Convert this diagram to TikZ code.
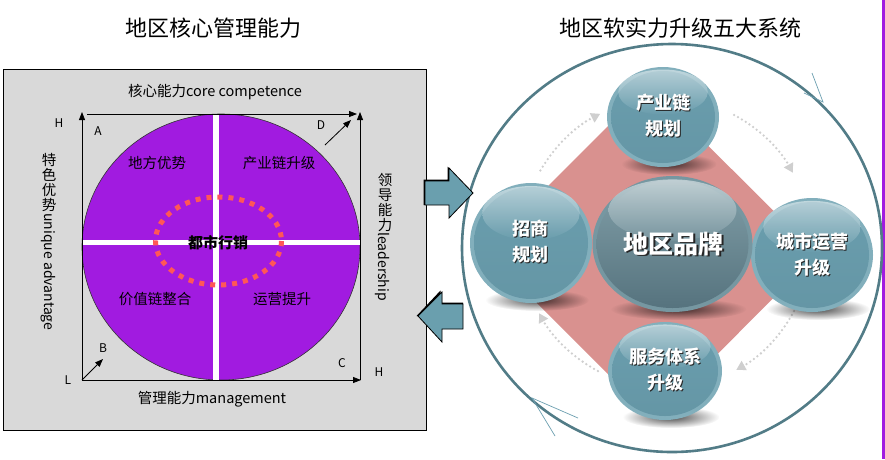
\documentclass[tikz,border=0pt]{standalone}
\usepackage{fontspec}
\setmainfont{Noto Sans CJK SC}
\usetikzlibrary{arrows.meta,fadings,shapes.geometric}
\definecolor{panelgray}{HTML}{D9D9D9}
\definecolor{purp}{HTML}{A11BE0}
\definecolor{dotred}{HTML}{FF5757}
\definecolor{arrteal}{HTML}{6A9FAE}
\definecolor{ringc}{HTML}{527C87}
\definecolor{tickc}{HTML}{6C9FB0}
\definecolor{diam}{HTML}{D9918F}
\definecolor{dotgray}{HTML}{CFCFCF}
\definecolor{sbody}{HTML}{6A9EAE}
\definecolor{srim}{HTML}{82AFBC}
\definecolor{cbodyt}{HTML}{819FA8}
\definecolor{cbodyb}{HTML}{56737E}
\definecolor{crim}{HTML}{7697A1}
\tikzfading[name=fuzzyfade, inner color=transparent!0, outer color=transparent!100]
\newcommand\mysphere[8]{%
  % #1 name, #2 cx, #3 cy, #4 rx, #5 ry, #6 rim, #7 top body, #8 bottom body
  \fill[black, opacity=0.7, path fading=fuzzyfade] (#2+6,#3+#5-3) ellipse[x radius=#4*0.85, y radius=11];
  \node[ellipse, fill=#6, minimum width=2*#4, minimum height=2*#5, inner sep=0] (#1) at (#2,#3) {};
  \shade[top color=#7, bottom color=#8] (#2,#3) ellipse[x radius=#4-4, y radius=#5-4];
  \shade[top color=white, bottom color=#7, opacity=0.5] (#2,#3-#5*0.5) ellipse[x radius=#4*0.8, y radius=#5*0.45];
}
\begin{document}
\begin{tikzpicture}[x=1pt,y=-1pt,
  lbl/.style={font=\fontsize{14.5}{16}\selectfont, inner sep=0},
  vlbl/.style={font=\fontsize{14.5}{15}\selectfont, inner sep=0, align=center, anchor=north},
  vlat/.style={font=\fontsize{14}{16}\selectfont, inner sep=0, rotate=-90, anchor=west},
  letter/.style={font=\fontsize{12}{14}\selectfont, inner sep=0},
  axisline/.style={-{Triangle[length=8pt,width=6pt]}, line width=0.8pt},
  bigarrow/.style={fill=arrteal, draw=black, line width=0.8pt, line join=miter},
  dotarc/.style={dotgray, line width=2.6pt, dash pattern=on 0pt off 4.5pt, line cap=round, -{Triangle[length=9pt,width=10pt]}},
  stext/.style={font=\fontsize{18}{26}\selectfont\bfseries, align=center, inner sep=0, text=white},
  sshadow/.style={font=\fontsize{18}{26}\selectfont\bfseries, align=center, inner sep=0, text=black!85},
  title/.style={font=\fontsize{22}{24}\selectfont, inner sep=0}
]
\useasboundingbox (0,0) rectangle (885,459);
\fill[white] (0,0) rectangle (885,459);

% titles
\node[title] (t1) at (213,28) {地区核心管理能力};
\node[title] (t2) at (680,28) {地区软实力升级五大系统};

% purple edge
\fill[purp] (881.5,0) rectangle (885,459);

% ---------------- left panel ----------------
\node[draw=black, fill=panelgray, line width=1pt, anchor=north west, minimum width=423, minimum height=361, inner sep=0] (panel) at (3,69) {};

\node[ellipse, fill=purp, draw=black!80, line width=0.6pt, minimum width=278, minimum height=266, inner sep=0] (disc) at (221,247) {};
\draw[white, line width=6pt] (216,114) -- (216,380);
\draw[white, line width=5pt] (82,242) -- (361,242);
\draw[dotred, line width=5pt, dash pattern=on 5pt off 6pt] (218.5,241) ellipse[x radius=63, y radius=44];

\coordinate (LL) at (82,380);
\coordinate (LT) at (82,112);
\coordinate (TL) at (87,114);
\coordinate (TR) at (357,114);
\coordinate (RB) at (360,380);
\coordinate (RT) at (360,112);
\coordinate (BR) at (361,380);
\draw[axisline] (LL) -- (LT);
\draw[axisline] (TL) -- (TR);
\draw[axisline] (RB) -- (RT);
\draw[axisline] (LL) -- (BR);
\coordinate (d0) at (325,145);
\coordinate (d1) at (351,120);
\draw[axisline] (d0) -- (d1);
\coordinate (b1) at (103,359);
\draw[axisline] (LL) -- (b1);

\node[lbl] (top) at (215,92) {核心能力core competence};
\node[lbl] (bot) at (212,399) {管理能力management};
\node[vlbl] (lftc) at (49,153) {特\\色\\优\\势};
\node[vlat] (lftl) at (48,213) {unique advantage};
\node[vlbl] (rgtc) at (385,173) {领\\导\\能\\力};
\node[vlat] (rgtl) at (382,232) {leadership};
\node[lbl] (q1) at (157,163) {地方优势};
\node[lbl] (q2) at (279,163) {产业链升级};
\node[lbl] (q3) at (155,299) {价值链整合};
\node[lbl] (q4) at (282,299) {运营提升};
\node[font=\fontsize{15}{17}\selectfont\bfseries, inner sep=0] (mid) at (218,243) {都市行销};
\node[letter] (h1) at (59,123) {H};
\node[letter] (la) at (98,131) {A};
\node[letter] (ld) at (321,125) {D};
\node[letter] (lb) at (103,348) {B};
\node[letter] (ll) at (68,380) {L};
\node[letter] (lc) at (342,363) {C};
\node[letter] (h2) at (379,372) {H};

% ---------------- right panel ----------------
\node[ellipse, draw=ringc, fill=white, line width=2.6pt, minimum width=420, minimum height=408, inner sep=0] (ring) at (672,248) {};
\coordinate (k1) at (812,73);
\coordinate (k2) at (823,102);
\coordinate (k3) at (804,93);
\draw[tickc, line width=0.7pt] (k1) -- (k2) -- (k3);
\coordinate (m1) at (578,418);
\coordinate (m2) at (532,398);
\coordinate (m3) at (555,436);
\draw[tickc, line width=0.7pt] (m1) -- (m2) -- (m3);

\fill[diam] (648,86) -- (817,254) -- (653,419) -- (484,250) -- cycle;

\draw[dotarc] ([shift={(210:145)}]666,243) arc[start angle=210, end angle=243, radius=145];
\draw[dotarc] ([shift={(298:145)}]666,243) arc[start angle=298, end angle=331, radius=145];
\draw[dotarc] ([shift={(28:145)}]666,243) arc[start angle=28, end angle=61, radius=145];
\draw[dotarc] ([shift={(118:145)}]666,243) arc[start angle=118, end angle=151, radius=145];

% arrows between panels
\fill[black] (423.5,179.5) -- (447.5,179.5) -- (447.5,166.5) -- (449,168) -- (449,181) -- (425,181) -- (425,205) -- (423.5,205) -- cycle;
\draw[bigarrow] (425,181) -- (449,181) -- (449,168) -- (473,193) -- (449,218) -- (449,205) -- (425,205) -- cycle;
\fill[black] (463,302.5) -- (440.5,302.5) -- (440.5,290.5) -- (416.5,316) -- (418,316) -- (442,292) -- (442,304) -- (463,304) -- cycle;
\draw[bigarrow] (463,304) -- (442,304) -- (442,292) -- (418,316) -- (442,342) -- (442,329) -- (463,329) -- cycle;

% spheres
\mysphere{s1}{663}{117}{56}{50}{srim}{sbody}{sbody!95!black}
\mysphere{s2}{531}{243}{61}{60}{srim}{sbody}{sbody!95!black}
\mysphere{s4}{812}{255}{61}{57}{srim}{sbody}{sbody!95!black}
\mysphere{s5}{665}{371}{57}{49}{srim}{sbody}{sbody!95!black}
\mysphere{s3}{672.5}{244}{80}{68}{crim}{cbodyt}{cbodyb}

\node[sshadow] (s1ts) at (664,117) {产业链\\规划};
\node[stext] (s1t) at (663,116) {产业链\\规划};
\node[sshadow] (s2ts) at (531,242.5) {招商\\规划};
\node[stext] (s2t) at (530,241.5) {招商\\规划};
\node[sshadow] (s4ts) at (813,255.5) {城市运营\\升级};
\node[stext] (s4t) at (812,254.5) {城市运营\\升级};
\node[sshadow] (s5ts) at (666,371) {服务体系\\升级};
\node[stext] (s5t) at (665,370) {服务体系\\升级};
\node[sshadow, font=\fontsize{25}{28}\selectfont\bfseries] (s3ts) at (675,245.5) {地区品牌};
\node[stext, font=\fontsize{25}{28}\selectfont\bfseries] (s3t) at (673.5,244) {地区品牌};
\end{tikzpicture}
\end{document}
